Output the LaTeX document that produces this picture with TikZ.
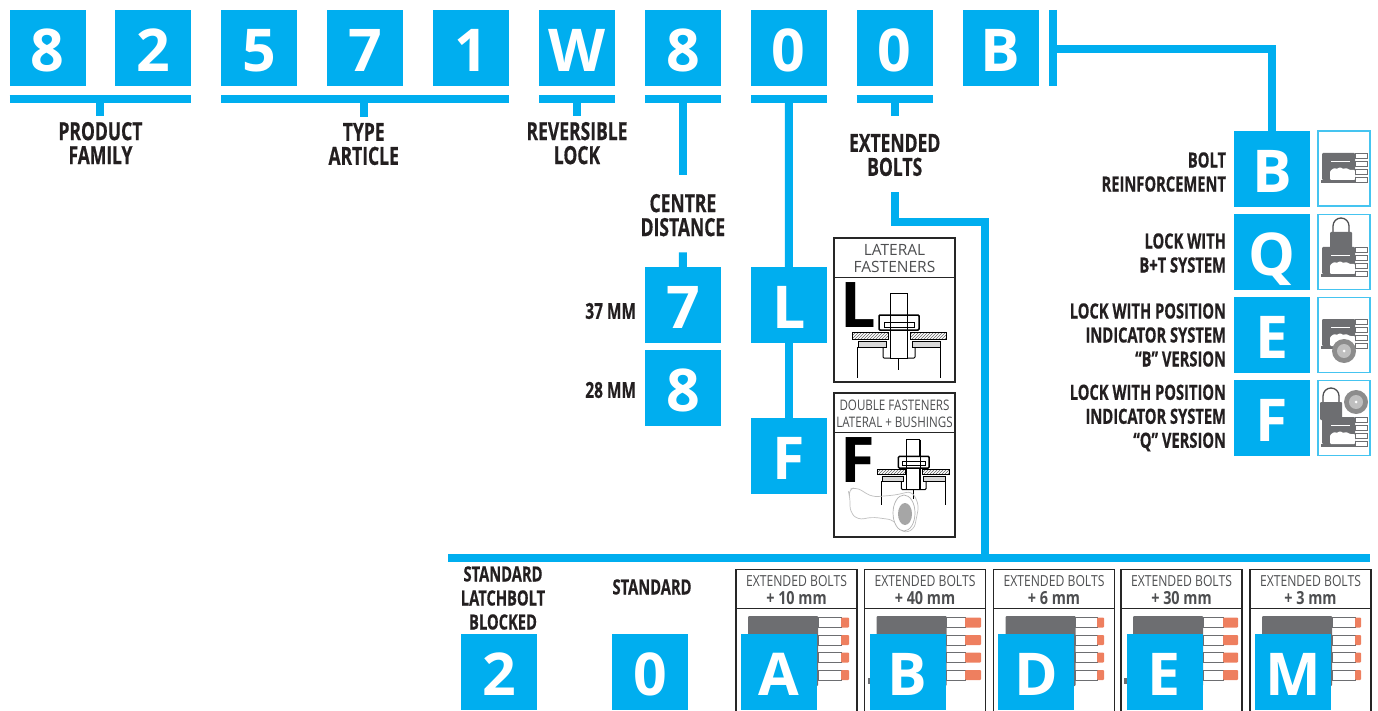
\documentclass[tikz,border=0pt]{standalone}
\usepackage{fontspec}
\usetikzlibrary{positioning, patterns}

\newfontfamily\tagfont[FakeStretch=0.70, BoldFeatures={FakeStretch=0.70, FakeBold=0.5}]{Open Sans}
\newfontfamily\panelfont[FakeStretch=0.80]{Open Sans}
\newfontfamily\codefont{Open Sans}

\definecolor{codeblue}{HTML}{00AEEF}
\definecolor{inkdark}{HTML}{231F20}
\definecolor{inkgrey}{HTML}{4D4E50}
\definecolor{bodygrey}{HTML}{6D6E71}
\definecolor{tiporange}{HTML}{EE7F5F}
\definecolor{thumbline}{HTML}{45C4F0}

\tikzset{
  lockbody/.pic={
    \fill[bodygrey, rounded corners=1pt] (0,0) rectangle (33,27);
    \fill[bodygrey] (-1,27) rectangle (33,30);
    \fill[white, rounded corners=1pt] (8,27) -- (8,18) -- (12,15) -- (15,16) -- (18,14) -- (21,16) -- (24,15) -- (28,17) -- (33,17) -- (33,27) -- cycle;
    \draw[white, line width=1pt] (9,8.5) -- (28,8.5);
    \draw[bodygrey, fill=white, line width=.7pt] (33,.5) rectangle (45,5.5);
    \draw[bodygrey, fill=white, line width=.7pt] (33,8.5) rectangle (45,13.5);
    \draw[bodygrey, fill=white, line width=.7pt] (33,16) rectangle (45,21);
    \draw[bodygrey, fill=white, line width=.7pt] (33,24) rectangle (45,29);
  },
  padlock/.pic={
    \draw[inkgrey, line width=1.3pt] (-8,0) -- (-8,-6) arc[start angle=180, end angle=0, radius=8pt] -- (8,0);
    \fill[bodygrey, rounded corners=1pt] (-11,0) rectangle (11,18);
  },
  dialpic/.pic={
    \fill[black!45] (0,0) circle[radius=12pt];
    \fill[black!25] (0,0) circle[radius=7pt];
    \fill[white] (0,0) circle[radius=1.5pt];
  },
  fastener/.pic={
    \draw[line width=1pt, pattern=north east lines, pattern color=black!60] (-46,2) rectangle (-10,9);
    \draw[line width=1pt, pattern=north east lines, pattern color=black!60] (12,2) rectangle (48,9);
    \draw[line width=.8pt, fill=black!15] (-40,11) rectangle (-12,17);
    \draw[line width=.8pt, fill=black!15] (14,11) rectangle (42,17);
    \draw[line width=.8pt] (-41,17) -- (-41,48);
    \draw[line width=.8pt] (42,17) -- (42,48);
    \draw[line width=1pt, rounded corners=1pt] (-15,17) -- (-15,28) -- (17,28) -- (17,17);
    \draw[line width=1pt, fill=white] (-8,-37) rectangle (9,28);
    \draw[line width=1.5pt, fill=white, rounded corners=1pt] (-19,0) -- (-19,-15) -- (21,-15) -- (21,0) -- cycle;
    \draw[line width=.8pt] (-14,-8) rectangle (16,-3);
    \draw[line width=.8pt] (-8,-37) -- (-8,28) (9,-37) -- (9,28);
    \draw[line width=.5pt] (0,28) -- (0,40);
  }
}

% panel with text, lock and four bolts: left x, end of white, end of tip, text
\newcommand{\extpanel}[4]{
  \draw[panelline] (#1,711) |- (#1+121,569.5) -- (#1+121,711);
  \draw[panelline, line width=.8pt] (#1,608) -- (#1+121,608);
  \fill[bodygrey, rounded corners=1pt] (#1+12,616) rectangle (#1+82,686);
  \draw[bodygrey, fill=white, line width=.7pt] (#1+82,617.5) rectangle (#2,627.5);
  \draw[bodygrey, fill=white, line width=.7pt] (#1+82,635) rectangle (#2,645);
  \draw[bodygrey, fill=white, line width=.7pt] (#1+82,652.5) rectangle (#2,662.5);
  \draw[bodygrey, fill=white, line width=.7pt] (#1+82,670) rectangle (#2,680);
  \fill[tiporange, rounded corners=1pt] (#2,617.5) rectangle (#3,627.5);
  \fill[tiporange, rounded corners=1pt] (#2,635) rectangle (#3,645);
  \fill[tiporange, rounded corners=1pt] (#2,652.5) rectangle (#3,662.5);
  \fill[tiporange, rounded corners=1pt] (#2,670) rectangle (#3,680);
  \node[paneltext] at (#1+60.5,581) {EXTENDED BOLTS};
  \node[paneltext, font=\panelfont\fontsize{18}{18}\selectfont\bfseries] at (#1+60.5,598) {#4};
}

\begin{document}
\begin{tikzpicture}[
  x=1pt, y=-1pt,
  codebox/.style={fill=codeblue, text=white, minimum size=76pt, inner sep=0pt, outer sep=0pt, text height=47pt, text depth=0pt, font=\codefont\fontsize{59}{59}\selectfont\bfseries},
  wire/.style={draw=codeblue, line width=8pt},
  tag/.style={inner sep=0pt, outer sep=0pt, align=center, text=inkdark, font=\tagfont\fontsize{25}{24}\selectfont\bfseries},
  smalltag/.style={tag, font=\tagfont\fontsize{21}{24}\selectfont\bfseries},
  sidetag/.style={smalltag, align=right, anchor=east},
  mmtag/.style={tag, anchor=east, font=\tagfont\fontsize{22}{24}\selectfont\bfseries},
  thumb/.style={draw=thumbline, line width=1.2pt, fill=white, minimum width=52pt, minimum height=75pt, inner sep=0pt, outer sep=0pt},
  fastbox/.style={draw=black!85, line width=1.2pt, fill=white, anchor=north west, minimum width=121pt, minimum height=144pt, inner sep=0pt, outer sep=0pt},
  fasttext/.style={inner sep=0pt, text=inkgrey, font=\panelfont\fontsize{14.5}{17}\selectfont},
  widetext/.style={inner sep=0pt, text=inkgrey, font=\codefont\fontsize{15.5}{17}\selectfont},
  fastletter/.style={inner sep=0pt, anchor=north west, text=black, font=\codefont\fontsize{63}{63}\selectfont\bfseries},
  panelline/.style={draw=black!85, line width=1.2pt},
  paneltext/.style={inner sep=0pt, text=inkgrey, font=\panelfont\fontsize{15.2}{17}\selectfont}
]
\useasboundingbox (0,0) rectangle (1378,711);

% Code row
\node[codebox] (c1) at (47.5,48) {8};
\node[codebox, right=29.9pt of c1] (c2) {2};
\node[codebox, right=29.9pt of c2] (c3) {5};
\node[codebox, right=29.9pt of c3] (c4) {7};
\node[codebox, right=29.9pt of c4] (c5) {1};
\node[codebox, right=29.9pt of c5] (c6) {W};
\node[codebox, right=29.9pt of c6] (c7) {8};
\node[codebox, right=29.9pt of c7] (c8) {0};
\node[codebox, right=29.9pt of c8] (c9) {0};
\node[codebox, right=29.9pt of c9] (c10) {B};

% Bars under the code row
\draw[wire] ([yshift=-13pt]c1.south west) -- coordinate[midway] (bar1) ([yshift=-13pt]c2.south east);
\draw[wire] ([yshift=-13pt]c3.south west) -- coordinate[midway] (bar2) ([yshift=-13pt]c5.south east);
\draw[wire] ([yshift=-13pt]c6.south west) -- coordinate[midway] (bar3) ([yshift=-13pt]c6.south east);
\draw[wire] ([yshift=-13pt]c7.south west) -- coordinate[midway] (bar4) ([yshift=-13pt]c7.south east);
\draw[wire] ([yshift=-13pt]c8.south west) -- coordinate[midway] (bar5) ([yshift=-13pt]c8.south east);
\draw[wire] ([yshift=-13pt]c9.south west) -- coordinate[midway] (bar6) ([yshift=-13pt]c9.south east);
\draw[wire] ([xshift=14pt]c10.north east) -- ([xshift=14pt]c10.south east);

% Tags
\node[tag, below=23pt of bar1] (family) {PRODUCT\\FAMILY};
\node[tag, below=24pt of bar2, xshift=-1.5pt] (article) {TYPE\\ARTICLE};
\node[tag, below=23pt of bar3] (reversible) {REVERSIBLE\\LOCK};
\node[tag, below=95pt of bar4] (centre) {CENTRE\\DISTANCE};
\node[tag, below=35pt of bar6] (extended) {EXTENDED\\BOLTS};

% Centre distance
\node[codebox] (d7) at (682.9,305) {7};
\node[codebox, below=7pt of d7] (d8) {8};
\node[mmtag] (mm37) at (636,311) {37 MM};
\node[mmtag] (mm28) at (636,390) {28 MM};

% Fasteners
\node[codebox] (fl) at (788.8,305) {L};
\node[codebox] (ff) at (788.8,456) {F};

\node[fastbox] (lbox) at (834,238) {};
\draw[black!85, line width=.8pt] (834,277) -- (955,277);
\node[widetext] (ltext1) at (894.5,250) {LATERAL};
\node[widetext] (ltext2) at (894.5,267) {FASTENERS};
\node[fastletter] (lmark) at (840,282) {L};
\pic at (898,330) {fastener};

\node[fastbox] (fbox) at (834,393) {};
\draw[black!85, line width=.8pt] (834,432) -- (955,432);
\node[fasttext] (ftext1) at (894.5,405) {DOUBLE FASTENERS};
\node[fasttext] (ftext2) at (894.5,422) {LATERAL + BUSHINGS};
\node[fastletter] (fmark) at (840,437) {F};
\pic[scale=.77] at (913,468) {fastener};
\draw[black!25, line width=.7pt, rounded corners=6pt] (850,497) -- (848,490) -- (856,487) -- (872,497) -- (896,495) -- (912,491) -- (919,505) -- (914,530) -- (902,533) -- (894,520) -- (872,517) -- (858,520) -- (850,512) -- cycle;
\draw[black!30, fill=white, line width=.7pt] (904,513) ellipse[x radius=11pt, y radius=18pt];
\fill[black!35] (905,514) ellipse[x radius=7pt, y radius=11pt];

% Options at the right
\node[codebox] (ob) at (1272,169) {B};
\node[codebox, below=7pt of ob] (oq) {Q};
\node[codebox, below=7pt of oq] (oe) {E};
\node[codebox, below=7pt of oe] (of) {F};

\node[sidetag] (tb) at (1226,172) {BOLT\\REINFORCEMENT};
\node[sidetag] (tq) at (1226,253) {LOCK WITH\\B+T SYSTEM};
\node[sidetag] (te) at (1226,335) {LOCK WITH POSITION\\INDICATOR SYSTEM\\“B” VERSION};
\node[sidetag] (tf) at (1226,418) {LOCK WITH POSITION\\INDICATOR SYSTEM\\“Q” VERSION};

\node[thumb] (ib) at (1344,168.5) {};
\node[thumb] (iq) at (1344,252) {};
\node[thumb] (ie) at (1344,335) {};
\node[thumb] (if) at (1344,418) {};
\pic at (1322,153) {lockbody};
\pic at (1322,247) {lockbody};
\pic at (1341,232) {padlock};
\pic at (1322,319) {lockbody};
\pic at (1344,351) {dialpic};
\pic at (1322,417) {lockbody};
\pic at (1331,402) {padlock};
\pic at (1356,402) {dialpic};

% Panels at the bottom
\extpanel{736}{841}{849}{+ 10 mm}
\extpanel{864.5}{965}{981}{+ 40 mm}
\extpanel{993.5}{1097}{1104}{+ 6 mm}
\extpanel{1121}{1223}{1238}{+ 30 mm}
\extpanel{1250}{1355}{1361}{+ 3 mm}
\fill[bodygrey] (868,678) rectangle (873,684);
\fill[bodygrey] (1124,678) rectangle (1129,684);

\node[codebox] (s2) at (499,672) {2};
\node[codebox] (s0) at (650,672) {0};
\node[codebox] (ea) at (779,672) {A};
\node[codebox] (eb) at (907.5,672) {B};
\node[codebox] (ed) at (1036,672) {D};
\node[codebox] (ee) at (1164.5,672) {E};
\node[codebox] (em) at (1293,672) {M};

\node[smalltag] (latch) at (503,598) {STANDARD\\LATCHBOLT\\BLOCKED};
\node[smalltag] (stand) at (652,587) {STANDARD};

% Lines
\coordinate (railleft) at (448,558);
\coordinate (railright) at (1370,558);
\coordinate (railjoin) at (985,558);
\draw[wire] (railleft) -- (railright);
\draw[wire] (bar1) -- ([yshift=6pt]family.north);
\draw[wire] (bar2 -| article.north) -- ([yshift=6pt]article.north);
\draw[wire] (bar3) -- ([yshift=6pt]reversible.north);
\draw[wire] (bar4) -- ([yshift=19pt]centre.north);
\draw[wire] ([yshift=-16pt]centre.south) -- (d7.north);
\draw[wire] (bar5) -- (fl.north);
\draw[wire] (fl.south) -- (ff.north);
\draw[wire] (bar6) -- ([yshift=18pt]extended.north);
\draw[wire] ([yshift=-16pt]extended.south) -- (extended.south |- 0,222) -| (railjoin);
\draw[wire] ([xshift=14pt, yshift=-1pt]c10.east) -| (ob.north);

\end{tikzpicture}
\end{document}
